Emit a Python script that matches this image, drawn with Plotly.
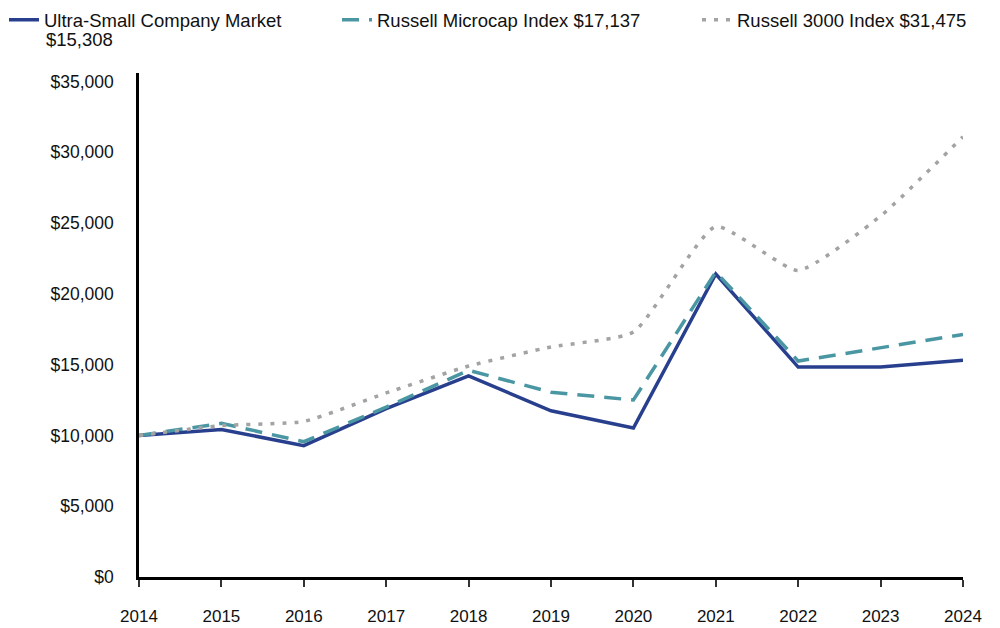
import plotly.graph_objects as go

years = [2014, 2015, 2016, 2017, 2018, 2019, 2020, 2021, 2022, 2023, 2024]
ultra_small = [10000, 10420, 9280, 11900, 14200, 11740, 10520, 21400, 14830, 14830, 15308]
microcap = [10000, 10850, 9560, 12000, 14600, 13050, 12500, 21550, 15250, 16200, 17137]
russell3000 = [10000, 10700, 10990, 13000, 14900, 16250, 17300, 24750, 21650, 25500, 31100]

names = ["Ultra-Small Company Market",
         "Russell Microcap Index $17,137",
         "Russell 3000 Index $31,475"]
name_line2 = "$15,308"

y_ticks = [0, 5000, 10000, 15000, 20000, 25000, 30000, 35000]
y_labels = ["$0", "$5,000", "$10,000", "$15,000", "$20,000", "$25,000", "$30,000", "$35,000"]

fig = go.Figure()
fig.add_trace(go.Scatter(x=years, y=ultra_small, mode="lines", name=names[0], legend="legend",
                         line=dict(color="#283F8E", width=3.5)))
fig.add_trace(go.Scatter(x=years, y=microcap, mode="lines", name=names[1], legend="legend2",
                         line=dict(color="#4A97A3", width=3.5, dash="17px,10px")))
fig.add_trace(go.Scatter(x=years, y=russell3000, mode="lines", name=names[2], legend="legend3",
                         line=dict(color="#A3A3A3", width=3.5, dash="4px,8px",
                                   shape="spline", smoothing=0.5)))

font = "Arial, Liberation Sans, sans-serif"
leg_common = dict(orientation="h", xref="container", yref="container",
                  xanchor="left", yanchor="top", valign="top",
                  font=dict(size=18.5, family=font, color="#111111"),
                  bgcolor="rgba(0,0,0,0)", borderwidth=0)

fig.add_annotation(text=name_line2, xref="paper", yref="paper", x=(44 - 139) / 824, y=1 + (73 - 39) / 504,
                   xanchor="left", yanchor="middle", showarrow=False,
                   font=dict(size=18.5, family=font, color="#111111"))

fig.update_layout(
    width=1000, height=628,
    paper_bgcolor="white", plot_bgcolor="white",
    margin=dict(l=139, r=37, t=73, b=51),
    font=dict(family=font, size=17, color="#111111"),
    showlegend=True,
    legend=dict(x=0.004, y=0.998, **leg_common),
    legend2=dict(x=0.337, y=0.998, **leg_common),
    legend3=dict(x=0.697, y=0.998, **leg_common),
    xaxis=dict(range=[2014, 2024], tickmode="array", tickvals=years,
               ticktext=[str(y) for y in years], automargin=False,
               showline=True, linecolor="black", linewidth=2.5,
               ticks="outside", ticklen=7, tickwidth=2, tickcolor="#333333",
               showgrid=False, zeroline=False, ticklabelstandoff=15,
               tickfont=dict(size=17)),
    yaxis=dict(range=[0, 35600], tickmode="array", tickvals=y_ticks, ticktext=y_labels,
               automargin=False,
               showline=True, linecolor="black", linewidth=2.5,
               ticks="", showgrid=False, zeroline=False, ticklabelstandoff=19,
               tickfont=dict(size=17.5)),
)
fig.write_html("out.html", config={"displayModeBar": False},
               post_script="document.body.style.margin='0px';")
